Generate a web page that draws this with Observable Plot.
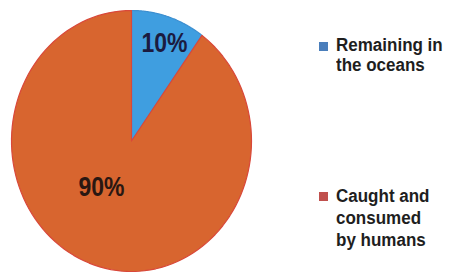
<!DOCTYPE html>
<html>
<head>
<meta charset="utf-8">
<script src="https://cdn.jsdelivr.net/npm/d3@7"></script>
<script src="https://cdn.jsdelivr.net/npm/@observablehq/plot@0.6"></script>
<style>
  html, body { margin: 0; padding: 0; background: #fff; }
  #wrap { position: relative; width: 456px; height: 272px; font-family: "Liberation Sans", Arial, sans-serif; }
  #wrap svg { position: absolute; left: 0; top: 0; }
  .leg { position: absolute; left: 319px; top: 0; color: #1e1e1e; font-weight: bold; font-size: 17px; }
  .leg .sw { position: absolute; left: 0; width: 9px; height: 9px; }
  .leg .tx { position: absolute; left: 17px; white-space: nowrap; transform: scaleY(1.1); transform-origin: 0 0; }
</style>
</head>
<body>
<div id="wrap"></div>
<script>
const categories = ["Remaining in the oceans", "Caught and consumed by humans"];
const values = [10, 90];
const labels = ["10%", "90%"];
const legendLines = [["Remaining in", "the oceans"], ["Caught and", "consumed", "by humans"]];
const colors = ["#3f9ee0", "#d8652f"];
const strokes = ["#3d8fd0", "#d9483a"];
const swatches = ["#4a7ebb", "#c0504d"];

const arcs = d3.pie().sort(null).value(d => d)(values);
const poly = [];
arcs.forEach((a, i) => {
  poly.push({k: categories[i], x: 0, y: 0});
  const n = 120;
  for (let j = 0; j <= n; j++) {
    const t = a.startAngle + (a.endAngle - a.startAngle) * j / n;
    poly.push({k: categories[i], x: Math.sin(t), y: Math.cos(t)});
  }
  poly.push({k: categories[i], x: 0, y: 0});
});

// label anchors (fractions of radius, unit-circle space)
const anchors = [[0.275, 0.75], [-0.25, -0.357]];
const labelData = labels.map((l, i) => ({l, x: anchors[i][0], y: anchors[i][1], c: i === 0 ? "#1b1b40" : "#2a1712"}));

const plot = Plot.plot({
  width: 456, height: 272,
  marginLeft: 11, marginRight: 205, marginTop: 10, marginBottom: 1,
  x: {domain: [-1, 1], axis: null},
  y: {domain: [-1, 1], axis: null},
  color: {domain: categories, range: colors},
  marks: [
    Plot.line(poly, {x: "x", y: "y", z: "k", fill: "k", stroke: d => strokes[categories.indexOf(d.k)], strokeWidth: 1.2, curve: "linear"}),
    Plot.text(labelData, {x: "x", y: "y", text: "l", fill: "c", fontSize: 23, fontWeight: "bold", fontFamily: "Liberation Sans, Arial, sans-serif"})
  ]
});
const wrap = document.getElementById("wrap");
wrap.appendChild(plot);

// stretch percent labels vertically like the reference
d3.select(plot).selectAll("g[aria-label='text'] text").each(function() {
  const b = this.getBBox();
  const cx = b.x + b.width / 2, cy = b.y + b.height / 2;
  const ex = this.getAttribute("transform") || "";
  this.setAttribute("transform", `${ex} translate(${cx},${cy}) scale(1,1.18) translate(${-cx},${-cy})`);
});

const legTops = [35.5, 184.5];
const lineHeights = [18.2, 20];
const swTops = [42, 192];
legendLines.forEach((lines, i) => {
  const d = document.createElement("div");
  d.className = "leg";
  const sw = document.createElement("div");
  sw.className = "sw";
  sw.style.background = swatches[i];
  sw.style.top = swTops[i] + "px";
  d.appendChild(sw);
  const tx = document.createElement("div");
  tx.className = "tx";
  tx.style.top = legTops[i] + "px";
  tx.style.lineHeight = lineHeights[i] + "px";
  tx.innerHTML = lines.join("<br>");
  d.appendChild(tx);
  wrap.appendChild(d);
});
</script>
</body>
</html>
